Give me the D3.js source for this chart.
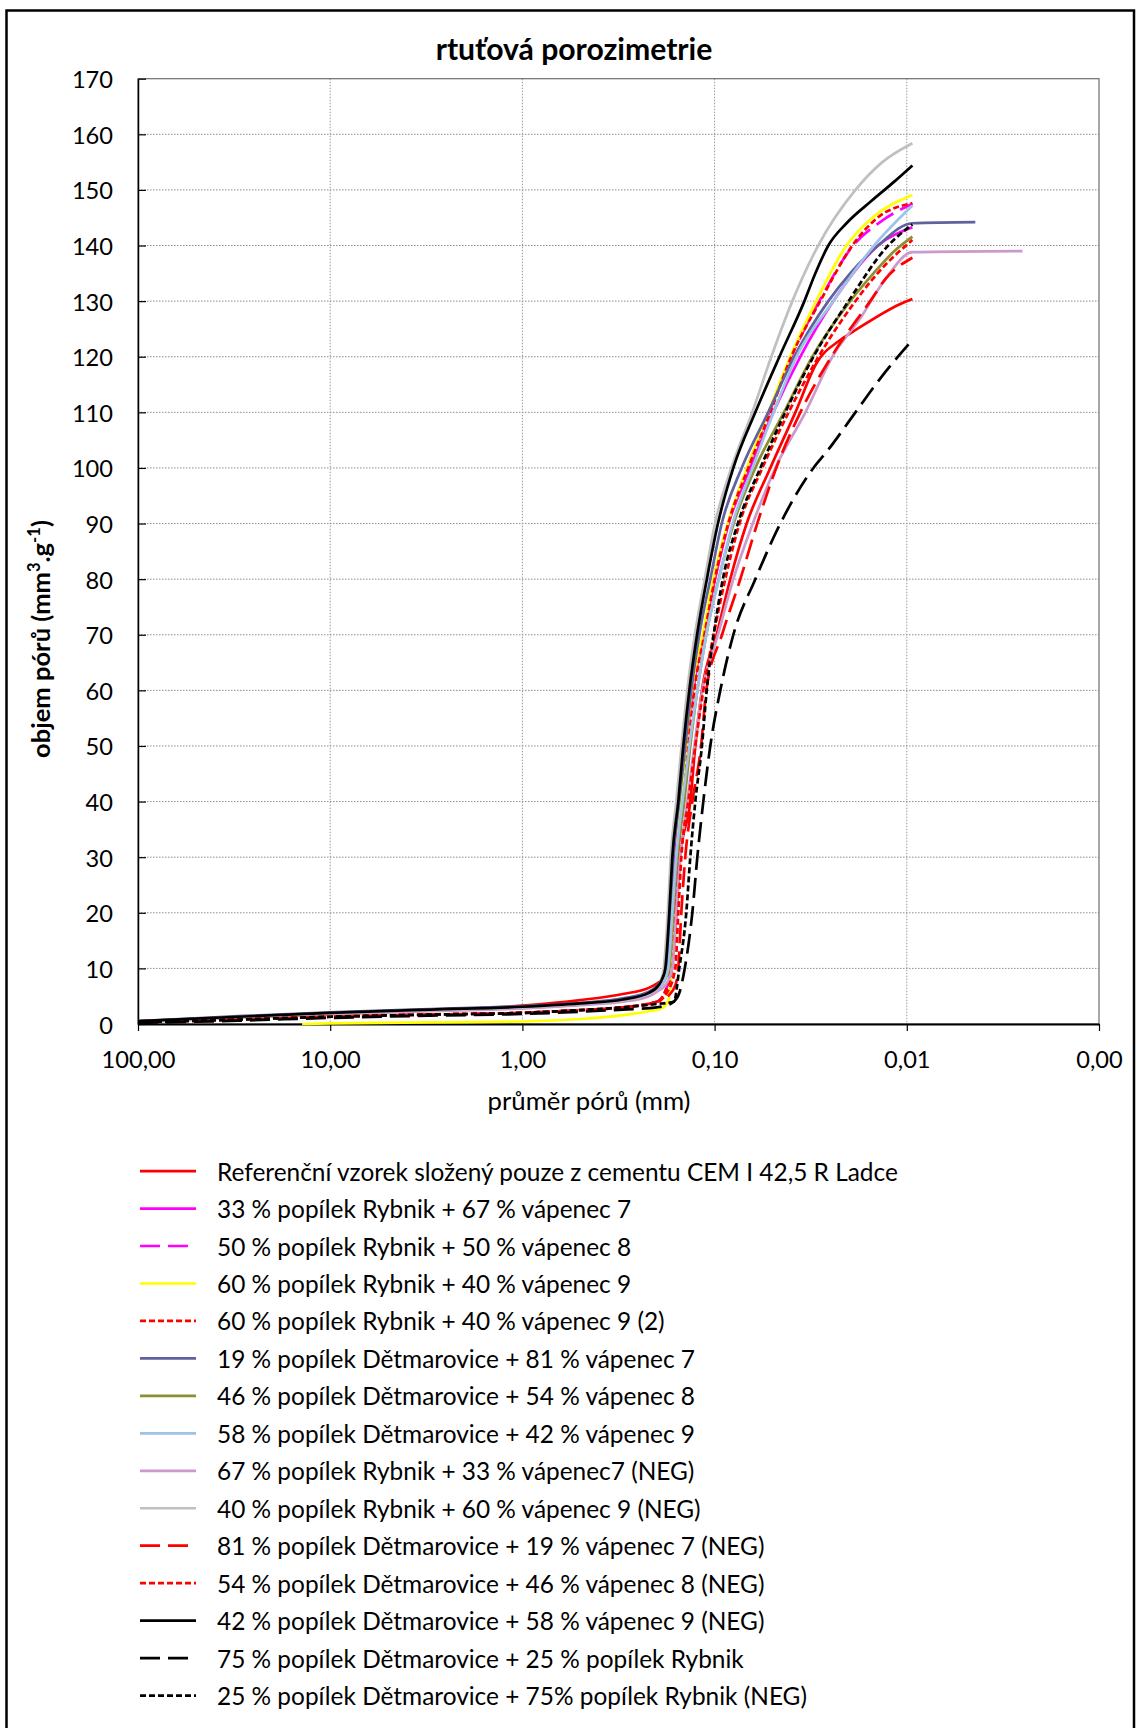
<!DOCTYPE html>
<html><head><meta charset="utf-8">
<script src="https://cdn.jsdelivr.net/npm/d3@7"></script>
<style>body{margin:0;background:#fff}svg{display:block}</style>
</head><body>
<script>
// ---------------- DATA ----------------
const chartTitle = "rtuťová porozimetrie";
const xTitle = "průměr pórů (mm)";
const xTicks = [100, 10, 1, 0.1, 0.01, 0.001];
const yTicks = [0,10,20,30,40,50,60,70,80,90,100,110,120,130,140,150,160,170];

const legendLabels = [
  "Referenční vzorek složený pouze z cementu CEM I 42,5 R Ladce",
  "33 % popílek Rybnik + 67 % vápenec 7",
  "50 % popílek Rybnik + 50 % vápenec 8",
  "60 % popílek Rybnik + 40 % vápenec 9",
  "60 % popílek Rybnik + 40 % vápenec 9 (2)",
  "19 % popílek Dětmarovice + 81 % vápenec 7",
  "46 % popílek Dětmarovice + 54 % vápenec 8",
  "58 % popílek Dětmarovice + 42 % vápenec 9",
  "67 % popílek Rybnik + 33 % vápenec7 (NEG)",
  "40 % popílek Rybnik + 60 % vápenec 9 (NEG)",
  "81 % popílek Dětmarovice + 19 % vápenec 7 (NEG)",
  "54 % popílek Dětmarovice + 46 % vápenec 8 (NEG)",
  "42 % popílek Dětmarovice + 58 % vápenec 9 (NEG)",
  "75 % popílek Dětmarovice + 25 % popílek Rybnik",
  "25 % popílek Dětmarovice + 75% popílek Rybnik (NEG)"
];

// pore diameter (mm) / cumulative volume (mm3/g)
const s01_d = [100,30,10,3,1,0.5,0.3,0.22,0.195,0.18,0.168,0.158,0.151,0.1338,0.126,0.1164,0.0976,0.0829,0.0681,0.0513,0.038,0.0293,0.0222,0.0181,0.0108,0.00935];
const s01_v = [0.5,1.2,1.8,2.5,3.3,4.3,5.4,6.5,7.5,8.5,10,20,30,40,50,60,70,80,90,100,110,119,123,125,129.5,130.4];

const s02_d = [100,30,10,3,1,0.5,0.3,0.22,0.2,0.185,0.1742,0.166,0.1602,0.1509,0.1404,0.1296,0.1145,0.0995,0.0845,0.0652,0.0495,0.0358,0.0241,0.0141,0.00935];
const s02_v = [0.4,1.2,1.9,2.5,3.0,3.6,4.3,5.5,6.3,7.5,10,20,30,40,50,60,70,80,90,100,110,120,130,140,143.3];

const s03_d = [100,30,10,3,1,0.5,0.3,0.2,0.18,0.168,0.162,0.156,0.147,0.139,0.129,0.1145,0.1004,0.085,0.0676,0.0519,0.0399,0.0285,0.019,0.0134,0.00935];
const s03_v = [0.3,0.8,1.3,1.7,2.0,2.5,3.0,4.0,6.0,10,20,30,40,50,60,70,80,90,100,110,120,130,140,144.5,147.5];

const s04_d = [14,10,3,1,0.5,0.3,0.22,0.19,0.175,0.168,0.164,0.158,0.149,0.14,0.131,0.1153,0.1015,0.0855,0.0678,0.0525,0.0404,0.0296,0.0206,0.0151,0.00935];
const s04_v = [0,0.1,0.3,0.45,0.9,1.6,2.3,2.8,4.0,10,20,30,40,50,60,70,80,90,100,110,120,130,140,145,149.1];

const s05_d = [100,30,10,3,1,0.5,0.3,0.2,0.18,0.166,0.16,0.1545,0.1455,0.1371,0.1275,0.113,0.0998,0.0849,0.0668,0.0513,0.0399,0.0282,0.0192,0.0142,0.00935];
const s05_v = [0.3,0.8,1.3,1.7,2.0,2.5,3.0,4.0,6.0,10,20,30,40,50,60,70,80,90,100,110,120,130,140,145,147.6];

const s06_d = [100,30,10,3,1,0.5,0.3,0.22,0.2,0.188,0.1784,0.17,0.1641,0.1527,0.1421,0.1322,0.1201,0.1053,0.0918,0.0723,0.0526,0.0385,0.0256,0.0197,0.0141,0.00935,0.0044];
const s06_v = [0.5,1.4,2.1,2.7,3.2,3.8,4.6,5.8,6.8,8.0,10,20,30,40,50,60,70,80,90,100,110,120,130,135,140,144,144.2];

const s07_d = [100,30,10,3,1,0.5,0.3,0.22,0.2,0.185,0.1721,0.1641,0.1564,0.1438,0.1338,0.123,0.1105,0.0953,0.0796,0.0614,0.0436,0.031,0.0197,0.0149,0.0116,0.00935];
const s07_v = [0.4,1.1,1.8,2.4,2.9,3.5,4.2,5.4,6.2,7.5,10,20,30,40,50,60,70,80,90,100,110,120,130,135,139,141.6];

const s08_d = [100,30,10,3,1,0.5,0.3,0.22,0.2,0.185,0.1742,0.166,0.1583,0.1471,0.1354,0.123,0.1105,0.095,0.0806,0.0635,0.0493,0.0375,0.0241,0.0148,0.00935];
const s08_v = [0.4,1.2,1.9,2.5,3.0,3.6,4.3,5.5,6.3,7.5,10,20,30,40,50,60,70,80,90,100,110,120,130,140,147.2];

const s09_d = [100,30,10,3,1,0.5,0.3,0.22,0.2,0.18,0.166,0.1583,0.1509,0.1387,0.1275,0.1159,0.0961,0.0799,0.0633,0.0483,0.0337,0.0244,0.0174,0.0129,0.00935,0.0025];
const s09_v = [0.4,1.1,1.8,2.3,2.8,3.4,4.0,5.0,5.8,7.0,10,20,30,40,50,60,70,80,90,100,110,120,127,134,138.8,139];

const s10_d = [100,30,10,3,1,0.5,0.3,0.22,0.2,0.1917,0.1839,0.1752,0.1692,0.1583,0.1485,0.1387,0.1267,0.1125,0.0995,0.0818,0.0637,0.0507,0.0394,0.0289,0.0185,0.0134,0.00935];
const s10_v = [0.4,1.2,1.9,2.5,3.0,3.6,4.3,5.5,6.3,7.5,10,20,30,40,50,60,70,80,90,100,110,120,130,140,150,155,158.4];

const s11_d = [100,30,10,3,1,0.5,0.3,0.2,0.175,0.16,0.1545,0.149,0.1421,0.1306,0.1176,0.1105,0.0915,0.0735,0.06,0.0478,0.0358,0.0247,0.0155,0.0129,0.00935];
const s11_v = [0.3,0.8,1.3,1.7,2.0,2.5,3.0,4.0,5.0,7.0,10,20,30,40,50,60,70,80,90,100,110,120,130,134,137.8];

const s12_d = [100,30,10,3,1,0.5,0.3,0.2,0.178,0.1602,0.1545,0.149,0.1371,0.126,0.1145,0.1012,0.088,0.0742,0.0564,0.0412,0.0288,0.0185,0.0142,0.00935];
const s12_v = [0.3,0.8,1.3,1.7,2.0,2.5,3.0,4.0,5.5,10,20,30,40,50,60,70,80,90,100,110,120,130,135,141];

const s13_d = [100,30,10,3,1,0.5,0.3,0.22,0.195,0.187,0.1805,0.1721,0.166,0.1545,0.1455,0.1354,0.1234,0.1097,0.0961,0.0799,0.0614,0.046,0.0341,0.0299,0.0256,0.0206,0.0153,0.0117,0.00935];
const s13_v = [0.5,1.3,2.0,2.6,3.1,3.7,4.4,5.6,7.0,8.2,10,20,30,40,50,60,70,80,90,100,110,120,130,135,140,144,148,151.4,154.4];

const s14_d = [100,30,10,3,1,0.5,0.3,0.2,0.17,0.155,0.143,0.1306,0.123,0.1145,0.1053,0.0934,0.0799,0.0614,0.0455,0.0306,0.026,0.0185,0.0136,0.00935];
const s14_v = [0.2,0.6,1.1,1.5,1.8,2.2,2.6,3.0,3.6,5.0,10,20,30,40,50,60,70,80,90,100,103,110,116.3,123];

const s15_d = [100,30,10,3,1,0.5,0.3,0.2,0.1628,0.1527,0.1404,0.1338,0.126,0.1164,0.1099,0.1011,0.0906,0.0757,0.0578,0.0429,0.0306,0.0201,0.0125,0.00935];
const s15_v = [0.3,0.8,1.3,1.7,2.0,2.5,3.0,3.6,4.0,10,20,30,40,50,60,70,80,90,100,110,120,130,140,143.8];

const seriesD = [s01_d,s02_d,s03_d,s04_d,s05_d,s06_d,s07_d,s08_d,s09_d,s10_d,s11_d,s12_d,s13_d,s14_d,s15_d];
const seriesV = [s01_v,s02_v,s03_v,s04_v,s05_v,s06_v,s07_v,s08_v,s09_v,s10_v,s11_v,s12_v,s13_v,s14_v,s15_v];

// ---------------- STYLE ----------------
const LONG = "20,8", SHORT = "6,3";
const styles = [
  {c:"#FF0000", dash:null},
  {c:"#FF00FF", dash:null},
  {c:"#FF00FF", dash:LONG},
  {c:"#FFFF00", dash:null},
  {c:"#FF0000", dash:SHORT},
  {c:"#60629E", dash:null},
  {c:"#8E8E2E", dash:null},
  {c:"#9DC3E6", dash:null},
  {c:"#CC99CC", dash:null},
  {c:"#C0C0C0", dash:null},
  {c:"#FF0000", dash:LONG},
  {c:"#FF0000", dash:SHORT},
  {c:"#000000", dash:null},
  {c:"#000000", dash:LONG},
  {c:"#000000", dash:SHORT}
];

const W = 1137, H = 1728;
const P = {l:138, r:1099, t:78.7, b:1024};
const FONT = "Lato, 'Open Sans', sans-serif";

const svg = d3.select("body").append("svg").attr("width", W).attr("height", H)
  .style("font-family", FONT);

svg.append("rect").attr("x",0).attr("y",0).attr("width",W).attr("height",H).attr("fill","#fff");
svg.append("rect").attr("x",6.5).attr("y",10.5).attr("width",1127.5).attr("height",1740)
  .attr("fill","none").attr("stroke","#000").attr("stroke-width",2.5);

const x = d3.scaleLog().domain([100, 0.001]).range([P.l, P.r]);
const y = d3.scaleLinear().domain([0, 170]).range([P.b, P.t]);

function fitSize(sel, target){
  const w = sel.node().getBBox().width;
  const fs = parseFloat(sel.attr("font-size"));
  return fs * target / w;
}

// gridlines
const grid = svg.append("g");
grid.selectAll("line.h").data(yTicks.filter(v => v > 0 && v < 170)).join("line")
  .attr("x1", P.l).attr("x2", P.r).attr("y1", d => y(d)).attr("y2", d => y(d))
  .attr("stroke","#8c8c8c").attr("stroke-width",1).attr("stroke-dasharray","1.5,1.5");
grid.selectAll("line.v").data(xTicks.slice(1, -1)).join("line")
  .attr("x1", d => x(d)).attr("x2", d => x(d)).attr("y1", P.t).attr("y2", P.b)
  .attr("stroke","#9a9a9a").attr("stroke-width",1).attr("stroke-dasharray","1.5,1.5");

svg.append("rect").attr("x",P.l).attr("y",P.t).attr("width",P.r-P.l).attr("height",P.b-P.t)
  .attr("fill","none").attr("stroke","#6e6e6e").attr("stroke-width",1.2);

const probe = svg.append("text").attr("font-size",24).text("100,00");
const tickFs = fitSize(probe, 74);
probe.remove();

const yAxis = svg.append("g").attr("transform", `translate(${P.l},0)`)
  .call(d3.axisLeft(y).tickValues(yTicks).tickFormat(d3.format("d")).tickSize(-8).tickSizeOuter(0).tickPadding(25));
yAxis.select(".domain").attr("stroke","#000").attr("stroke-width",1.5);
yAxis.selectAll(".tick line").attr("stroke","#000").attr("stroke-width",1.2);
yAxis.selectAll(".tick text").attr("font-size", tickFs).attr("font-family", FONT)
  .attr("fill","#000").attr("dy", null).attr("dominant-baseline","central");

const czLocale = d3.formatLocale({decimal:",", thousands:" ", grouping:[3], currency:["","Kč"]});
const xAxis = svg.append("g").attr("transform", `translate(0,${P.b})`)
  .call(d3.axisBottom(x).tickValues(xTicks).tickFormat(czLocale.format(".2f")).tickSize(7).tickSizeOuter(0));
xAxis.select(".domain").attr("stroke","#000").attr("stroke-width",2);
xAxis.selectAll(".tick line").attr("stroke","#000").attr("stroke-width",1.2);
xAxis.selectAll(".tick text").attr("font-size", tickFs).attr("font-family", FONT)
  .attr("fill","#000").attr("y", 44).attr("dy", 0);

// series
const line = d3.line().x(p => x(p[0])).y(p => y(p[1])).curve(d3.curveMonotoneX);
const gS = svg.append("g");
seriesD.forEach((ds, i) => {
  const pts = ds.map((d, k) => [d, seriesV[i][k]]);
  const st = styles[i];
  gS.append("path").attr("d", line(pts)).attr("fill","none")
    .attr("stroke", st.c).attr("stroke-width", 2.7)
    .attr("stroke-linejoin","round")
    .attr("stroke-dasharray", st.dash);
});

// title
const t = svg.append("text").attr("x",574).attr("y",60).attr("text-anchor","middle")
  .attr("font-weight","bold").attr("font-size",26).attr("fill","#000").text(chartTitle);
t.attr("font-size", fitSize(t, 277));

const xt = svg.append("text").attr("x",589).attr("y",1110).attr("text-anchor","middle")
  .attr("font-size",24).attr("fill","#000").text(xTitle);
xt.attr("font-size", fitSize(xt, 203));

const yt = svg.append("text").attr("transform","translate(50,639) rotate(-90)")
  .attr("text-anchor","middle").attr("font-weight","bold").attr("font-size",22).attr("fill","#000");
yt.append("tspan").text("objem pórů (mm");
yt.append("tspan").attr("baseline-shift","super").attr("font-size","65%").text("3");
yt.append("tspan").text(".g");
yt.append("tspan").attr("baseline-shift","super").attr("font-size","65%").text("-1");
yt.append("tspan").text(")");
yt.attr("font-size", fitSize(yt, 238));

// legend
const lg = svg.append("g");
const rowY = i => 1171.1 + i * 37.46;
const probeL = lg.append("text").attr("font-size",24).text(legendLabels[0]);
const legFs = fitSize(probeL, 681);
probeL.remove();
legendLabels.forEach((lab, i) => {
  const st = styles[i];
  lg.append("line").attr("x1",140).attr("x2",196).attr("y1",rowY(i)).attr("y2",rowY(i))
    .attr("stroke", st.c).attr("stroke-width",2.7).attr("stroke-dasharray", st.dash);
  lg.append("text").attr("x",217).attr("y",rowY(i)).attr("dominant-baseline","central")
    .attr("font-size",legFs).attr("fill","#000").text(lab);
});
</script>
</body></html>
